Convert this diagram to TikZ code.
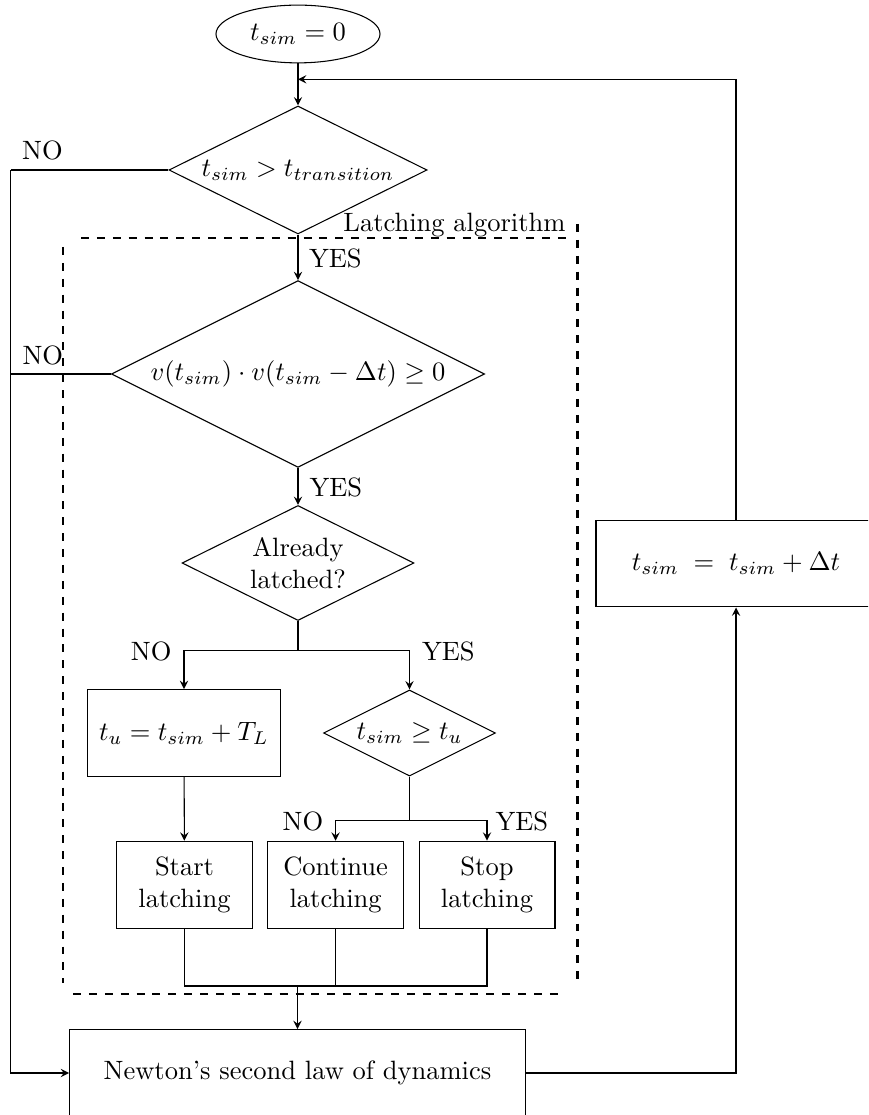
\documentclass[tikz,border=0pt]{standalone}
\usepackage{amsmath,amssymb}
\usepackage{tikz}
\usetikzlibrary{arrows.meta, positioning, calc, shapes}

\begin{document}
\begin{tikzpicture}[x=0.3774pt, y=-0.3774pt, >=stealth,
  decision/.style={diamond, draw, aspect=2, inner sep=1pt},
  block/.style={rectangle, draw, align=center, minimum height=32.8pt},
  lbl/.style={inner sep=0pt}]
  \useasboundingbox (0,0) rectangle (868,1115);
  \clip (0,0) rectangle (868,1115);
  % Main column
  \node[ellipse, draw, minimum width=61.9pt, minimum height=21.8pt] (init) at (298,34) {$t_{sim} = 0$};
  \node[decision, minimum width=97.4pt, minimum height=48.3pt] (trans) at (298,170) {$t_{sim} > t_{transition}$};
  \node[decision, minimum width=140.8pt, minimum height=70.5pt] (sign) at (298,374) {$v(t_{sim}) \cdot v(t_{sim} - \Delta t) \geq 0$};
  \node[decision, minimum width=87.5pt, minimum height=43.4pt, align=center] (latched) at (298,563) {Already\\latched?};
  % Latching branches
  \node[block, minimum width=72.8pt] (unlock) at (184,733) {$t_u = t_{sim} + T_L$};
  \node[decision, minimum width=64.9pt, minimum height=32.5pt] (expire) at (409.5,733) {$t_{sim} \geq t_u$};
  \node[block, minimum width=51.3pt] (startl) at (184.5,884.7) {Start\\latching};
  \node[block, minimum width=51.3pt] (contl) at (335.6,884.7) {Continue\\latching};
  \node[block, minimum width=51.3pt] (stopl) at (487,884.7) {Stop\\latching};
  % Dynamics and time step
  \node[block, minimum width=172pt] (newton) at (297.5,1073) {Newton's second law of dynamics};
  \node[block, minimum width=105.7pt] (update) at (736,563.5) {$t_{sim} \;=\; t_{sim} + \Delta t$};

  % Latching algorithm frame
  \draw[thick, dashed] (81,237.7) -- (567,237.7);
  \draw[thick, dashed] (63,247) -- (63,983);
  \draw[thick, dashed] (73,994) -- (560,994);
  \draw[thick, dashed] (577.5,224) -- (577.5,983);
  \node[lbl, anchor=base east] (frametitle) at (566,232) {Latching algorithm};

  % Connectors
  \coordinate (rail) at (10.5,170);
  \coordinate (split1) at (298,650.7);
  \coordinate (split2) at (409.5,820.7);
  \coordinate (merge) at (297.5,986);
  \coordinate (back) at (298,79.3);
  \draw[->] (init) -- (trans);
  \draw[->] (trans) -- (sign);
  \draw[->] (sign) -- (latched);
  \draw (trans.west) -- (rail);
  \draw[->] (rail) |- (newton.west);
  \draw (sign.west) -- (sign.west -| rail);
  \draw (latched.south) -- (split1);
  \draw[->] (split1) -| (unlock.north);
  \draw[->] (split1) -| (expire.north);
  \draw[->] (unlock) -- (startl);
  \draw (expire.south) -- (split2);
  \draw[->] (split2) -| (contl.north);
  \draw[->] (split2) -| (stopl.north);
  \draw (startl.south) |- (merge) -| (stopl.south);
  \draw (contl.south) -- (contl.south |- merge);
  \draw[->] (merge) -- (newton.north);
  \draw[->] (newton.east) -| (update.south);
  \draw[->] (update.north) |- (back);

  % Branch labels
  \node[lbl, anchor=base west] (no1) at (21.7,160) {NO};
  \node[lbl, anchor=base west] (no2) at (22,365) {NO};
  \node[lbl, anchor=base west] (yes1) at (308.5,268) {YES};
  \node[lbl, anchor=base west] (yes2) at (309,497) {YES};
  \node[lbl, anchor=base east] (no3) at (172,660) {NO};
  \node[lbl, anchor=base west] (yes3) at (421.5,660) {YES};
  \node[lbl, anchor=base east] (no4) at (323.7,830) {NO};
  \node[lbl, anchor=base west] (yes4) at (495,830) {YES};
\end{tikzpicture}
\end{document}
